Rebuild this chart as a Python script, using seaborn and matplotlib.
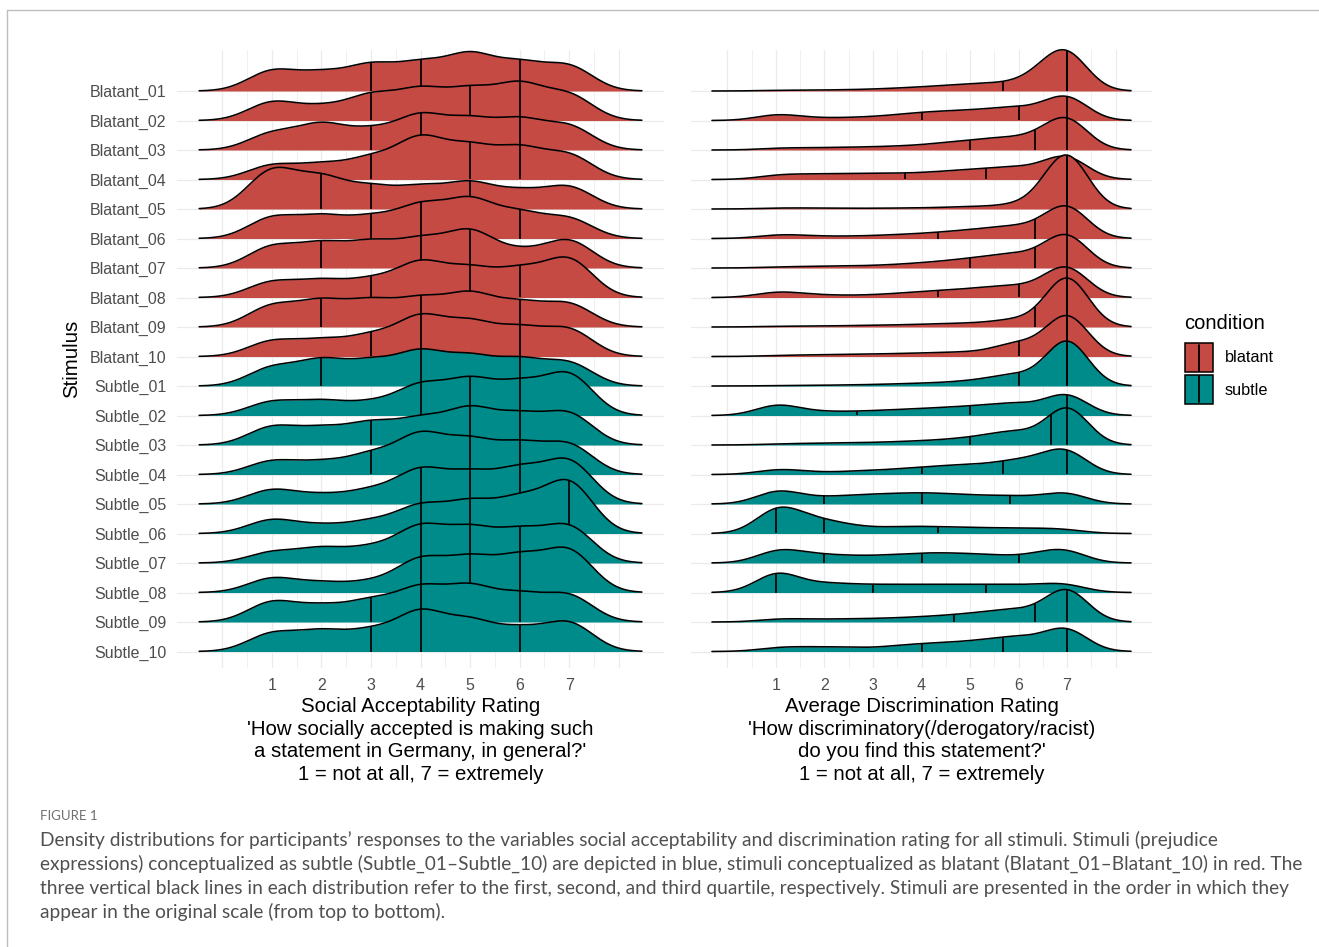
import numpy as np
import pandas as pd
import matplotlib
matplotlib.use("Agg")
import matplotlib.pyplot as plt
from matplotlib.patches import Rectangle
from matplotlib.lines import Line2D
import seaborn as sns

# ---------------- data ----------------
stimuli = [f"Blatant_{i:02d}" for i in range(1, 11)] + [f"Subtle_{i:02d}" for i in range(1, 11)]
condition = ["blatant"] * 10 + ["subtle"] * 10

# Social acceptability: estimated share of responses at each rating 1..7
acc_levels = [1, 2, 3, 4, 5, 6, 7]
acc_share = [
    [18, 15, 22, 23, 31, 23, 22],
    [16, 11, 21, 25.5, 25, 30, 22],
    [14, 21, 15.5, 28, 24, 24, 20],
    [12, 12, 17, 34, 26, 25, 20.5],
    [35, 27, 18.5, 18.5, 22.5, 15, 20],
    [18, 18, 17, 27, 32, 20.5, 17],
    [18.5, 20, 21, 23, 31, 13, 24],
    [13.5, 14, 14.5, 29.5, 23.5, 22.5, 33.5],
    [18, 21, 21, 22.5, 27, 19, 19.5],
    [13.5, 13.5, 17, 33.5, 28, 23, 23.5],
    [16, 21.5, 20, 28.5, 24, 21.5, 20],
    [12, 12, 10.5, 25.5, 29.5, 26, 36],
    [16, 14, 18.5, 21.5, 30.5, 24.5, 27.5],
    [12, 10.5, 17, 34.5, 28.5, 25.5, 26.5],
    [12.5, 7.5, 11.5, 29, 25, 28.5, 37.5],
    [12.5, 7, 10.5, 24, 26.5, 29, 46.5],
    [9.5, 12.5, 12.5, 31, 28.5, 26.5, 32],
    [12.5, 8, 8.5, 28, 28, 29, 36.5],
    [17.5, 13, 17.5, 28.5, 29, 22, 23],
    [16, 17, 17, 34, 25.5, 18.5, 25.5],
]
acc_quartiles = [
    [3, 4, 6], [3, 5, 6], [3, 4, 6], [3, 5, 6], [2, 3, 5],
    [3, 4, 6], [2, 4, 5], [3, 5, 6], [2, 4, 6], [3, 4, 6],
    [2, 4, 6], [4, 5, 6], [3, 5, 6], [3, 5, 6], [4, 5, 6],
    [4, 5, 7], [4, 5, 6], [4, 5, 6], [3, 4, 6], [3, 4, 6],
]

# Average discrimination rating: estimated share of responses at 1, 1.5, ..., 7
disc_levels = [1.0, 1.5, 2.0, 2.5, 3.0, 3.5, 4.0, 4.5, 5.0, 5.5, 6.0, 6.5, 7.0]
disc_share = [
    [0.45, 0.3, 0.45, 0.6, 0.8, 1.35, 1.8, 2.6, 3.3, 3.9, 3.5, 10.7, 34.1],
    [5, 1.4, 1.2, 1.4, 1.8, 2.7, 4.1, 4.5, 5, 5.6, 7.6, 4.1, 22],
    [1.1, 0.9, 1.05, 1.2, 1.35, 1.7, 2.1, 3.3, 4.4, 5.3, 6, 5.5, 26.7],
    [2.9, 2.3, 2.6, 2.7, 2.9, 2.7, 3.0, 3.8, 4.5, 5.3, 6.5, 4.2, 19.6],
    [0.6, 0.45, 0.45, 0.3, 0.3, 0.45, 0.45, 0.75, 1.2, 1.2, 2.5, 4, 50],
    [2.4, 1.4, 0.9, 1.0, 1.2, 1.7, 2.1, 2.9, 3.8, 4.7, 6.4, 3.9, 27.5],
    [0.6, 0.6, 0.77, 0.9, 1.05, 1.5, 2.3, 3.0, 4.4, 5.3, 7.6, 4.1, 28.3],
    [4.1, 1.5, 1.2, 0.8, 1.2, 1.7, 2.7, 3.2, 3.8, 5.0, 5.8, 3.8, 26.2],
    [0.45, 0.3, 0.45, 0.6, 0.77, 0.9, 1.2, 1.5, 1.8, 2.0, 5.2, 0.5, 46.3],
    [0.6, 0.6, 0.77, 0.9, 1.05, 1.27, 1.5, 1.8, 2.1, 2.2, 10.3, 0.2, 37.7],
    [0.2, 0.23, 0.32, 0.45, 0.6, 0.9, 1.2, 1.5, 2.3, 3.5, 7.3, 0.2, 40.5],
    [8.5, 2.0, 1.8, 1.7, 2.1, 2.6, 3.0, 3.6, 4.1, 4.9, 6.8, 2.3, 17.9],
    [0.6, 0.6, 0.77, 0.9, 1.05, 1.35, 1.8, 2.2, 3.3, 4.5, 8.3, 0.2, 32.7],
    [3.5, 1.7, 0.6, 1.6, 1.8, 2.3, 3.4, 3.9, 4.5, 4.6, 7.7, 6.5, 19.3],
    [11, 3.3, 3.2, 4.2, 4.7, 5, 5.5, 5, 4.2, 3.95, 4.24, 2.59, 9.31],
    [20.5, 8, 7, 4, 2.5, 3.2, 3.5, 2.9, 2.7, 2.6, 2.6, 2.3, 2.6],
    [9.5, 4.5, 4, 3.3, 3.2, 3.8, 4.6, 4.6, 4.2, 3.8, 2.6, 5.1, 9.4],
    [16.5, 3.3, 5, 3.7, 3.64, 3.64, 3.64, 3.64, 3.64, 3.64, 3.54, 3.45, 5.91],
    [1.9, 1.3, 1.2, 1.4, 1.5, 1.8, 2.3, 2.9, 3.8, 4.9, 6.9, 2.6, 28.8],
    [2.7, 2.1, 2.3, 2.1, 1.4, 3.0, 3.8, 4.2, 4.9, 6.0, 8.7, 4.3, 20.4],
]
disc_quartiles = [
    [5.67, 7, 7], [4, 6, 7], [5, 6.33, 7], [3.67, 5.33, 7], [7, 7, 7],
    [4.33, 6.33, 7], [5, 6.33, 7], [4.33, 6, 7], [6.33, 7, 7], [6, 7, 7],
    [6, 7, 7], [2.67, 5, 7], [5, 6.67, 7], [4, 5.67, 7], [2, 4, 5.83],
    [1, 2, 4.33], [2, 4, 6], [1, 3, 5.33], [4.67, 6.33, 7], [4, 5.67, 7],
]

x_ticks = [1, 2, 3, 4, 5, 6, 7]
acc_title = ("Social Acceptability Rating\n'How socially accepted is making such\n"
             "a statement in Germany, in general?'\n1 = not at all, 7 = extremely")
disc_title = ("Average Discrimination Rating\n'How discriminatory(/derogatory/racist)\n"
              "do you find this statement?'\n1 = not at all, 7 = extremely")
y_title = "Stimulus"
legend_title = "condition"
legend_labels = ["blatant", "subtle"]
caption_label = "FIGURE 1"
caption_lines = [
    "Density distributions for participants\u2019 responses to the variables social acceptability and discrimination rating for all stimuli. Stimuli (prejudice",
    "expressions) conceptualized as subtle (Subtle_01\u2013Subtle_10) are depicted in blue, stimuli conceptualized as blatant (Blatant_01\u2013Blatant_10) in red. The",
    "three vertical black lines in each distribution refer to the first, second, and third quartile, respectively. Stimuli are presented in the order in which they",
    "appear in the original scale (from top to bottom).",
]

# ---------------- style ----------------
sns.set_theme(style="white")
plt.rcParams["font.family"] = ["Liberation Sans", "DejaVu Sans"]

W, H = 1319, 947
fig = plt.figure(figsize=(W / 100, H / 100), dpi=100)
fig.patch.set_facecolor("white")


def fx(px):
    return px / W


def fy(py):
    return 1 - py / H


def kde_settings(levels, weights, bw):
    """seaborn bw_method factor giving a kernel sd of `bw` for the weighted data,
    and the `cut` that extends the grid 3*bw beyond the data range (as ggridges)."""
    x = np.asarray(levels, float)
    w = np.asarray(weights, float)
    w = w / w.sum()
    m = (w * x).sum()
    var_w = (w * (x - m) ** 2).sum() / (1 - (w ** 2).sum())
    factor = bw / np.sqrt(var_w)
    sd_unweighted = np.std(x, ddof=1)  # seaborn builds the grid from unweighted data
    cut = 3 * bw / (factor * sd_unweighted)
    return factor, cut


PANEL_TOP, PANEL_BOT = 50, 668
BASE0, ROW = 91, 29.5
baselines = [BASE0 + i * ROW for i in range(len(stimuli))]
PEAK_PX = 54

palette = {"blatant": "#C54A43", "subtle": "#008B8B"}
GRID = "#EBEBEB"
TXT = "#4D4D4D"

panels = [
    dict(levels=acc_levels, share=acc_share, quart=acc_quartiles, bw=0.49,
         left=177, right=664, xlim=(-0.917, 8.917), title=acc_title, ylabels=True),
    dict(levels=disc_levels, share=disc_share, quart=disc_quartiles, bw=0.44,
         left=691, right=1152, xlim=(-0.752, 8.752), title=disc_title, ylabels=False),
]

for p in panels:
    L, R = p["left"], p["right"]
    bg = fig.add_axes([fx(L), fy(PANEL_BOT), (R - L) / W, (PANEL_BOT - PANEL_TOP) / H])
    bg.set_xlim(p["xlim"])
    bg.set_ylim(PANEL_BOT, PANEL_TOP)
    bg.set_facecolor("none")
    for sp in bg.spines.values():
        sp.set_visible(False)
    for v in np.arange(0, 8.01, 0.5):
        major = float(v).is_integer()
        bg.axvline(v, color=GRID, lw=0.9 if major else 0.55, zorder=0)
    for b in baselines:
        bg.axhline(b, color=GRID, lw=0.9, zorder=0)
    bg.set_xticks(x_ticks)
    bg.set_xticklabels([str(t) for t in x_ticks])
    bg.tick_params(axis="x", length=0, pad=7, labelsize=11.5, labelcolor=TXT)
    if p["ylabels"]:
        bg.set_yticks(baselines)
        bg.set_yticklabels(stimuli)
        bg.tick_params(axis="y", length=0, pad=7.5, labelsize=11.5, labelcolor=TXT)
    else:
        bg.set_yticks([])
    fig.text(fx((L + R) / 2), fy(697), p["title"], ha="center", va="top",
             fontsize=14.7, color="black", linespacing=1.24)

    ridge_axes = []
    dmax = 0.0
    for i, (name, cond) in enumerate(zip(stimuli, condition)):
        b = baselines[i]
        ax = fig.add_axes([fx(L), fy(b + 6), (R - L) / W, 66 / H])
        ax.set_axis_off()
        w = np.asarray(p["share"][i], float)
        factor, cut = kde_settings(p["levels"], w, p["bw"])
        sns.kdeplot(x=p["levels"], weights=w, bw_method=factor, cut=cut, gridsize=512,
                    color="black", linewidth=1.15, ax=ax)
        line = ax.lines[-1]
        xs = np.asarray(line.get_xdata())
        ys = np.asarray(line.get_ydata())
        line.set_zorder(3)
        ax.fill_between(xs, 0, ys, color=palette[cond], lw=0, zorder=1)
        for q in p["quart"][i]:
            ax.vlines(q, 0, np.interp(q, xs, ys), color="black", lw=1.25, zorder=2)
        dmax = max(dmax, ys.max())
        ridge_axes.append(ax)
    s = dmax / PEAK_PX
    for ax in ridge_axes:
        ax.set_xlim(p["xlim"])
        ax.set_ylim(-6 * s, 60 * s)

fig.text(fx(72), fy(359), y_title, rotation=90, ha="center", va="center",
         fontsize=14.7, color="black")

# legend
fig.text(fx(1184), fy(323), legend_title, ha="left", va="center", fontsize=14.5, color="black")
for k, (lab, cond) in enumerate(zip(legend_labels, ["blatant", "subtle"])):
    top = 343 + k * 32
    fig.add_artist(Rectangle((fx(1185), fy(top + 29)), 28 / W, 29 / H,
                             transform=fig.transFigure, facecolor=palette[cond],
                             edgecolor="black", lw=1.1))
    fig.add_artist(Line2D([fx(1199), fx(1199)], [fy(top + 1.5), fy(top + 27.5)],
                          transform=fig.transFigure, color="black", lw=1.3))
    fig.text(fx(1225), fy(top + 15), lab, ha="left", va="center", fontsize=11.7, color="black")

# frame lines
fig.add_artist(Line2D([fx(7), 1.0], [fy(10), fy(10)], transform=fig.transFigure,
                      color="#BDBDBD", lw=1.0))
fig.add_artist(Line2D([fx(7), fx(7)], [fy(10), 0.0], transform=fig.transFigure,
                      color="#BDBDBD", lw=1.0))

# caption
cap_family = ["Lato", "DejaVu Sans"]
fig.text(fx(40), fy(816), caption_label, ha="left", va="center", fontsize=9.5,
         color="#707070", family=cap_family)
renderer = fig.canvas.get_renderer()
probe = fig.text(0, 0, caption_lines[1], fontsize=12, family=cap_family)
wpx = probe.get_window_extent(renderer).width
probe.remove()
cap_size = 12 * 1256 / wpx
for j, ln in enumerate(caption_lines):
    fig.text(fx(40), fy(840 + 24 * j), ln, ha="left", va="center", fontsize=cap_size,
             color="#505050", family=cap_family)

fig.savefig("out.png", dpi=100)
